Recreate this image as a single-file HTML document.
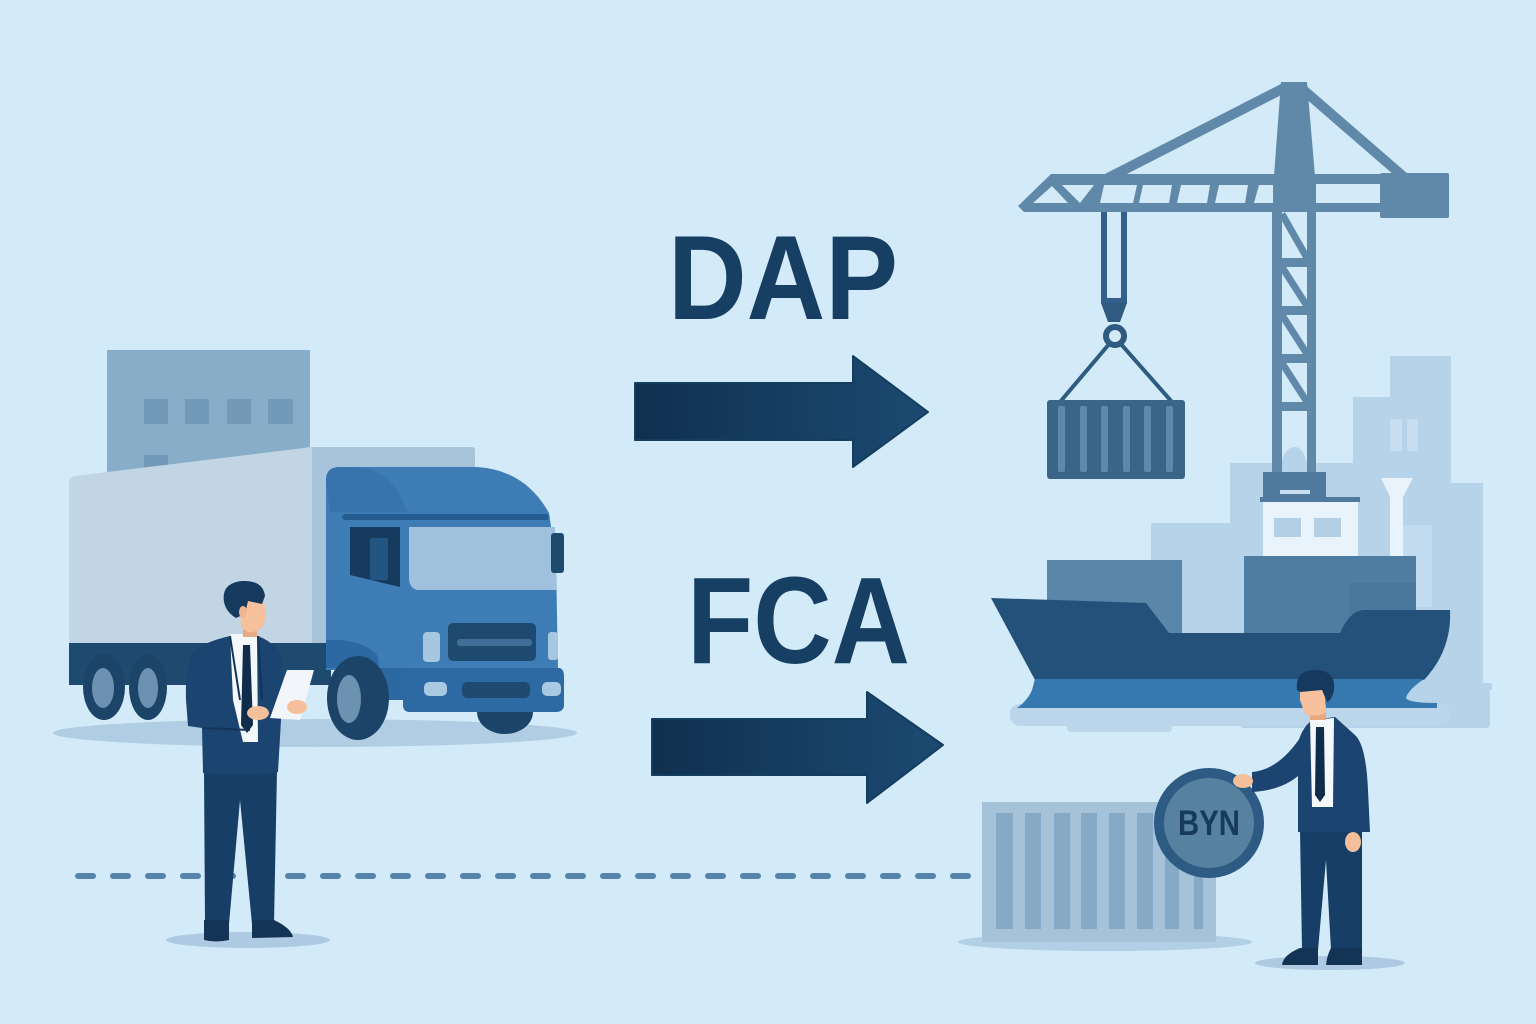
<!DOCTYPE html>
<html><head><meta charset="utf-8"><style>
html,body{margin:0;padding:0;background:#d3ebf8;}
svg{display:block;}
</style></head><body>
<svg width="1536" height="1024" viewBox="0 0 1536 1024" xmlns="http://www.w3.org/2000/svg">
<defs>
<linearGradient id="ag" x1="0" y1="0" x2="1" y2="0">
<stop offset="0" stop-color="#10304f"/><stop offset="1" stop-color="#1b4a71"/>
</linearGradient>
</defs>
<rect width="1536" height="1024" fill="#d3ebf8"/>

<!-- right background buildings -->
<g fill="#b6d3ea">
<rect x="1390" y="356" width="61" height="340"/>
<rect x="1353" y="397" width="40" height="300"/>
<rect x="1449" y="483" width="34" height="210"/>
<rect x="1230" y="463" width="130" height="240"/>
<rect x="1151" y="523" width="90" height="180"/>
<path d="M1280,470 Q1283,447 1295,447 Q1305,447 1308,470 Z"/>
<rect x="1240" y="683" width="252" height="7" rx="2"/>
<rect x="1240" y="688" width="250" height="40" rx="4"/>
</g>
<rect x="1390" y="419" width="12" height="32" fill="#c6def0"/>
<rect x="1407" y="419" width="11" height="32" fill="#c6def0"/>
<rect x="1403" y="525" width="29" height="82" fill="#c2dbee"/>

<!-- crane -->
<g fill="#6089a9">
<line x1="1108" y1="178" x2="1286" y2="87" stroke="#6089a9" stroke-width="10"/>
<line x1="1300" y1="87" x2="1405" y2="178" stroke="#6089a9" stroke-width="10"/>
<polygon points="1281,82 1307,82 1315,176 1274,176"/>
<polygon points="1051,174 1380,174 1380,212 1024,212 1018,206"/>
<rect x="1380" y="173" width="69" height="45" rx="2"/>
<rect x="1272" y="210" width="10" height="264"/>
<rect x="1307" y="210" width="9" height="264"/>
<rect x="1272" y="258" width="44" height="9"/>
<rect x="1272" y="306" width="44" height="9"/>
<rect x="1272" y="354" width="44" height="9"/>
<rect x="1272" y="402" width="44" height="9"/>
</g>
<g stroke="#6089a9" stroke-width="7">
<line x1="1282" y1="214" x2="1307" y2="258"/>
<line x1="1282" y1="267" x2="1307" y2="306"/>
<line x1="1282" y1="315" x2="1307" y2="354"/>
<line x1="1282" y1="363" x2="1307" y2="402"/>
</g>
<g fill="#d3ebf8">
<polygon points="1033,203 1052,186 1068,203"/>
<polygon points="1062,185 1094,185 1080,203"/>
<polygon points="1104,185 1137,185 1133,203 1100,203"/>
<polygon points="1143,185 1172,185 1169,203 1139,203"/>
<polygon points="1181,185 1210,185 1207,203 1177,203"/>
<polygon points="1219,185 1248,185 1245,203 1215,203"/>
<polygon points="1259,185 1273,185 1273,203 1254,203"/>
<rect x="1316" y="184" width="64" height="19"/>
</g>
<!-- hook -->
<rect x="1101" y="212" width="26" height="92" fill="#33608a"/>
<rect x="1107" y="212" width="14" height="86" fill="#d3ebf8"/>
<polygon points="1101,303 1127,303 1120,322 1108,322" fill="#2f5b82"/>
<circle cx="1115" cy="336" r="9" fill="none" stroke="#2f5b82" stroke-width="6"/>
<line x1="1110" y1="343" x2="1060" y2="402" stroke="#2f5b82" stroke-width="4"/>
<line x1="1120" y1="343" x2="1172" y2="402" stroke="#2f5b82" stroke-width="4"/>
<rect x="1047" y="400" width="138" height="79" rx="3" fill="#3a6488"/>
<g fill="#5f89aa">
<rect x="1058" y="406" width="7" height="66" rx="2"/>
<rect x="1080" y="406" width="7" height="66" rx="2"/>
<rect x="1101" y="406" width="7" height="66" rx="2"/>
<rect x="1123" y="406" width="7" height="66" rx="2"/>
<rect x="1144" y="406" width="7" height="66" rx="2"/>
<rect x="1166" y="406" width="7" height="66" rx="2"/>
</g>

<!-- ship -->
<rect x="1263" y="472" width="63" height="27" fill="#4f7a9e"/>
<rect x="1280" y="490" width="30" height="4" fill="#c8def0"/>
<path d="M1381,478 H1413 L1403,497 V556 H1390 V497 Z" fill="#e8f3fb"/>
<rect x="1263" y="500" width="95" height="58" fill="#e8f3fb"/>
<rect x="1260" y="497" width="100" height="5" fill="#4f7a9e"/>
<rect x="1274" y="518" width="27" height="19" fill="#b2cfe6"/>
<rect x="1314" y="518" width="27" height="19" fill="#b2cfe6"/>
<rect x="1047" y="560" width="135" height="76" fill="#5a86aa"/>
<rect x="1244" y="556" width="172" height="80" fill="#4f7da2"/>
<rect x="1349" y="583" width="67" height="53" fill="#4a779c"/>
<rect x="1010" y="704" width="440" height="22" rx="10" fill="#bbd6eb"/>
<rect x="1067" y="724" width="105" height="8" rx="4" fill="#bbd6eb"/>
<path d="M991,598 L1146,603 L1169,633 L1340,633 Q1350,611 1363,610 L1450,610 Q1452,650 1424,680 L1035,680 Z" fill="#24517a"/>
<path d="M1035,679 L1424,679 Q1408,690 1406,698 Q1408,703 1437,703 L1437,708 L1017,708 Q1028,700 1032,690 Z" fill="#3679b0"/>

<!-- truck building -->
<rect x="107" y="350" width="203" height="130" fill="#87adc9"/>
<g fill="#7399b9">
<rect x="144" y="399" width="24" height="25"/>
<rect x="185" y="399" width="24" height="25"/>
<rect x="227" y="399" width="24" height="25"/>
<rect x="268" y="399" width="25" height="25"/>
<rect x="144" y="455" width="24" height="20"/>
</g>
<!-- truck shadow -->
<ellipse cx="315" cy="733" rx="262" ry="14" fill="#b1cde4"/>
<!-- box -->
<rect x="305" y="447" width="170" height="196" rx="3" fill="#a8c4da"/>
<path d="M75,476 L312,447 L312,643 L69,643 L69,484 Q69,477 75,476 Z" fill="#c2d5e4"/>
<rect x="69" y="643" width="262" height="42" fill="#1f4a70"/>
<!-- rear wheels -->
<ellipse cx="104" cy="687" rx="21" ry="33" fill="#1c4468"/>
<ellipse cx="103" cy="688" rx="11" ry="20" fill="#6d91b0"/>
<ellipse cx="148" cy="687" rx="19" ry="33" fill="#1c4468"/>
<ellipse cx="148" cy="688" rx="10" ry="20" fill="#6d91b0"/>
<!-- far front wheel -->
<ellipse cx="505" cy="712" rx="28" ry="22" fill="#1c4468"/>
<!-- cab -->
<path d="M326,480 Q326,467 340,467 L477,467 Q525,470 549,513 L556,560 L558,670 L326,670 Z" fill="#3d7cb5"/>
<path d="M340,467 L365,468 Q398,478 407,512 L330,512 L326,480 Q326,467 340,467 Z" fill="#3774ad"/>
<path d="M326,640 L343,640 Q372,645 378,657 L382,700 L403,700 L403,668 L326,668 Z" fill="#2c69a2"/>
<rect x="342" y="514" width="207" height="6" rx="3" fill="#245d90"/>
<path d="M350,527 L400,527 L400,587 L350,575 Z" fill="#163b5f"/>
<rect x="370" y="538" width="18" height="42" rx="2" fill="#245482"/>
<path d="M409,527 L555,527 L557,590 L417,590 Q410,588 409,580 Z" fill="#a0c1de"/>
<rect x="551" y="533" width="13" height="40" rx="3" fill="#1f4a70"/>
<rect x="423" y="632" width="17" height="30" rx="4" fill="#a7c6e0"/>
<rect x="548" y="632" width="10" height="28" rx="3" fill="#a7c6e0"/>
<rect x="448" y="623" width="88" height="38" rx="5" fill="#1f4a70"/>
<rect x="457" y="639" width="75" height="7" rx="3" fill="#3f6f99"/>
<path d="M403,668 L560,668 Q564,670 564,676 L564,706 Q563,712 556,712 L410,712 Q403,712 403,705 Z" fill="#2d6aa4"/>
<rect x="424" y="682" width="23" height="14" rx="5" fill="#a9c8e2"/>
<rect x="542" y="682" width="19" height="14" rx="5" fill="#a9c8e2"/>
<rect x="462" y="682" width="68" height="16" rx="5" fill="#1f4a70"/>
<!-- front wheel -->
<ellipse cx="358" cy="698" rx="31" ry="42" fill="#1c4468"/>
<ellipse cx="349" cy="699" rx="12" ry="24" fill="#6d91b0"/>

<!-- dashed line -->
<line x1="78" y1="876" x2="968" y2="876" stroke="#5583aa" stroke-width="6" stroke-linecap="round" stroke-dasharray="15 20"/>

<!-- bottom container -->
<ellipse cx="1105" cy="942" rx="147" ry="9" fill="#b3cfe5"/>
<rect x="982" y="802" width="234" height="140" fill="#a6c2d9"/>
<g fill="#86a9c6">
<rect x="996" y="813" width="17" height="116"/>
<rect x="1025" y="813" width="16" height="116"/>
<rect x="1054" y="813" width="16" height="116"/>
<rect x="1081" y="813" width="16" height="116"/>
<rect x="1109" y="813" width="16" height="116"/>
<rect x="1137" y="813" width="16" height="116"/>
<rect x="1165" y="813" width="14" height="116"/>
<rect x="1194" y="813" width="9" height="116"/>
</g>
<!-- coin -->
<circle cx="1209" cy="823" r="55" fill="#2d5b84"/>
<circle cx="1209" cy="823" r="45" fill="#56819f"/>
<text x="1178" y="835" font-family="Liberation Sans, Arial, sans-serif" font-weight="bold" font-size="35" fill="#163a5c" textLength="62" lengthAdjust="spacingAndGlyphs">BYN</text>

<!-- left person -->
<ellipse cx="248" cy="940" rx="82" ry="8" fill="#aecae2"/>
<path d="M204,770 L277,770 L274,924 L252,924 L240,800 L229,924 L205,924 Z" fill="#173e66"/>
<path d="M204,920 L229,920 L229,940 Q216,943 204,940 Z" fill="#143456"/>
<path d="M252,920 L274,920 Q291,928 293,937 L252,938 Z" fill="#143456"/>
<path d="M230,636 Q204,642 192,652 Q185,664 186,700 L188,726 L202,728 L203,773 Q240,778 278,772 L281,720 L283,662 Q280,645 258,636 Z" fill="#1b4470"/>
<path d="M230,634 L257,634 L258,742 L243,742 L233,700 Z" fill="#f5f8fb"/>
<path d="M243,645 L250,645 L253,725 L247,733 L241,725 Z" fill="#0f2c4a"/>
<path d="M230,636 L240,700 M258,636 L262,700" stroke="#133458" stroke-width="2" fill="none"/>
<path d="M203,728 L250,730" stroke="#133458" stroke-width="2"/>
<polygon points="270,718 287,670 314,670 300,720" fill="#f2f6fa"/>
<ellipse cx="258" cy="713" rx="11" ry="7" fill="#f4bf9a"/>
<ellipse cx="297" cy="707" rx="10" ry="7" fill="#f4bf9a"/>
<rect x="243" y="625" width="14" height="12" fill="#e8a882"/>
<path d="M240,600 L263,596 Q267,612 264,625 Q258,633 248,632 L241,628 Z" fill="#f6c19c"/>
<path d="M224,602 Q221,583 242,581 Q263,580 265,596 L262,604 L248,601 L245,614 L236,618 Q226,612 224,602 Z" fill="#153a5e"/>
<ellipse cx="243" cy="612" rx="4" ry="6" fill="#f0b690"/>

<!-- right person -->
<ellipse cx="1330" cy="963" rx="75" ry="7" fill="#aecae2"/>
<path d="M1300,830 L1362,830 L1362,950 L1331,950 L1326,860 L1318,950 L1302,950 Z" fill="#173e66"/>
<path d="M1300,948 L1318,948 L1318,965 L1282,965 Q1283,955 1300,948 Z" fill="#143456"/>
<path d="M1331,948 L1362,948 L1362,965 L1326,965 Q1327,955 1331,948 Z" fill="#143456"/>
<path d="M1312,720 Q1300,730 1298,745 L1298,832 L1370,832 L1368,790 Q1366,745 1355,735 L1335,717 Z" fill="#1b4470"/>
<path d="M1300,738 Q1278,770 1252,772 L1252,792 Q1288,790 1306,768 Z" fill="#1b4470"/>
<path d="M1310,720 L1334,718 L1333,807 L1312,807 Z" fill="#f5f8fb"/>
<path d="M1316,727 L1324,727 L1325,795 L1320,802 L1315,795 Z" fill="#0f2c4a"/>
<ellipse cx="1243" cy="781" rx="10" ry="7" fill="#f4bf9a"/>
<ellipse cx="1353" cy="842" rx="8" ry="10" fill="#f4bf9a"/>
<rect x="1310" y="705" width="16" height="15" fill="#e8a882"/>
<path d="M1300,683 L1324,683 L1326,712 Q1318,718 1305,714 L1300,700 Z" fill="#f6c19c"/>
<path d="M1297,690 Q1295,670 1315,670 Q1336,670 1334,690 Q1332,700 1327,702 L1322,690 L1300,692 Z" fill="#153a5e"/>

<!-- arrows -->
<polygon points="635,383 853,383 853,356 928,412 853,467 853,440 635,440" fill="url(#ag)" stroke="#143d60" stroke-width="2" stroke-linejoin="round"/>
<polygon points="652,719 867,719 867,692 943,745 867,803 867,775 652,775" fill="url(#ag)" stroke="#143d60" stroke-width="2" stroke-linejoin="round"/>

<!-- labels -->
<text x="668" y="319" font-family="Liberation Sans, Arial, sans-serif" font-weight="bold" font-size="120" fill="#173f63" textLength="230" lengthAdjust="spacingAndGlyphs">DAP</text>
<text x="687" y="663" font-family="Liberation Sans, Arial, sans-serif" font-weight="bold" font-size="123" fill="#173f63" textLength="223" lengthAdjust="spacingAndGlyphs">FCA</text>
</svg>
</body></html>
